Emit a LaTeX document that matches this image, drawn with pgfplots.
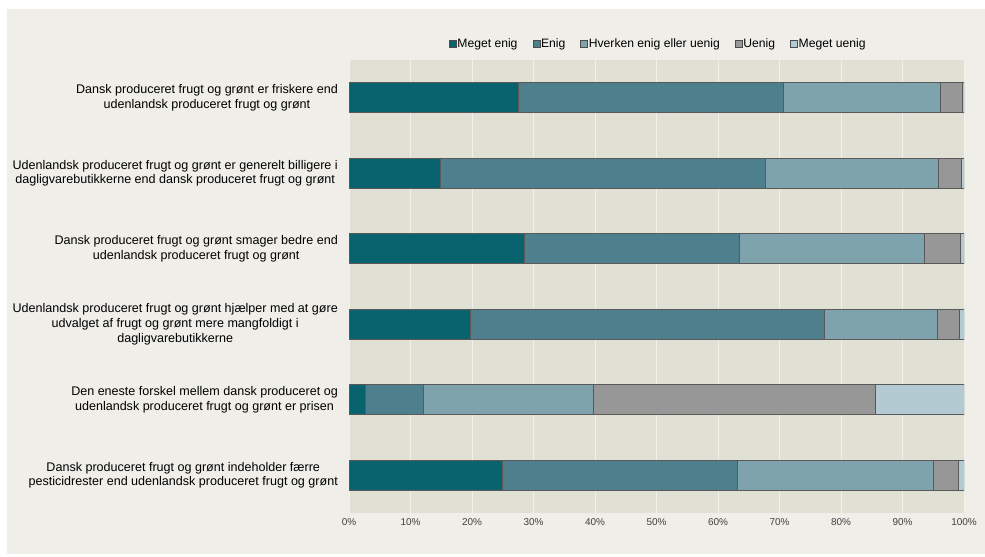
\documentclass[border=0pt]{standalone}
\usepackage{pgfplots}
\pgfplotsset{compat=1.18}
\usepackage{fontspec}
\setmainfont{Liberation Sans}

\definecolor{panel}{HTML}{EFEEE8}
\definecolor{plotbg}{HTML}{E0E0D5}
\definecolor{gridc}{HTML}{F2F1EB}
\definecolor{cA}{HTML}{08636F}
\definecolor{cB}{HTML}{4E7F8C}
\definecolor{cC}{HTML}{7EA3AC}
\definecolor{cD}{HTML}{979797}
\definecolor{cE}{HTML}{B4CAD2}

\begin{document}
\begin{tikzpicture}
\useasboundingbox (0bp,0bp) rectangle (985bp,557bp);
\fill[white] (0bp,0bp) rectangle (985bp,557bp);
\fill[panel] (7bp,3bp) rectangle (985bp,548bp);
\begin{axis}[
    at={(349bp,44bp)}, anchor=south west,
    scale only axis, width=615bp, height=453bp,
    xbar stacked, bar width=30bp,
    xmin=0, xmax=100, ymin=-0.5, ymax=5.5, y dir=reverse,
    axis background/.style={fill=plotbg},
    axis line style={draw=none},
    major tick length=0pt,
    xmajorgrids, grid style={gridc, line width=0.9bp},
    xtick={0,10,...,100},
    xticklabels={0\%,10\%,20\%,30\%,40\%,50\%,60\%,70\%,80\%,90\%,100\%},
    xticklabel style={font=\fontsize{10}{11}\selectfont, text=black!75, yshift=-2bp},
    ytick={0,1,2,3,4,5},
    yticklabels={
      {Dansk produceret frugt og grønt er friskere end\\udenlandsk produceret frugt og grønt},
      {Udenlandsk produceret frugt og grønt er generelt billigere i\\dagligvarebutikkerne end dansk produceret frugt og grønt},
      {Dansk produceret frugt og grønt smager bedre end\\udenlandsk produceret frugt og grønt},
      {Udenlandsk produceret frugt og grønt hjælper med at gøre\\udvalget af frugt og grønt mere mangfoldigt i\\dagligvarebutikkerne},
      {Den eneste forskel mellem dansk produceret og\\udenlandsk produceret frugt og grønt er prisen},
      {Dansk produceret frugt og grønt indeholder færre\\pesticidrester end udenlandsk produceret frugt og grønt}},
    yticklabel style={align=center, anchor=east, inner sep=0pt, xshift=-11bp,
      font=\fontsize{12.6}{15}\selectfont},
    every axis plot/.append style={draw=black!65, line width=0.6bp},
    legend columns=-1,
    legend style={at={(0.502,1.035)}, anchor=center, draw=none, fill=none,
      font=\fontsize{12.2}{14}\selectfont,
      nodes={inner sep=1bp},
      /tikz/every even column/.append style={column sep=14bp}},
    legend image code/.code={\draw[#1, draw=black!70, line width=0.5bp] (0bp,-3.5bp) rectangle (7bp,3.5bp);},
]
\addplot[fill=cA] coordinates {(27.5,0) (14.8,1) (28.5,2) (19.8,3) (2.6,4) (24.9,5)};
\addplot[fill=cB] coordinates {(43.1,0) (52.9,1) (35.0,2) (57.5,3) (9.4,4) (38.3,5)};
\addplot[fill=cC] coordinates {(25.6,0) (28.2,1) (30.0,2) (18.3,3) (27.7,4) (31.8,5)};
\addplot[fill=cD] coordinates {(3.5,0) (3.6,1) (5.9,2) (3.7,3) (45.9,4) (4.1,5)};
\addplot[fill=cE] coordinates {(0.3,0) (0.5,1) (0.6,2) (0.7,3) (14.4,4) (0.9,5)};
\legend{Meget enig, Enig, Hverken enig eller uenig, Uenig, Meget uenig}
\end{axis}
\end{tikzpicture}
\end{document}
